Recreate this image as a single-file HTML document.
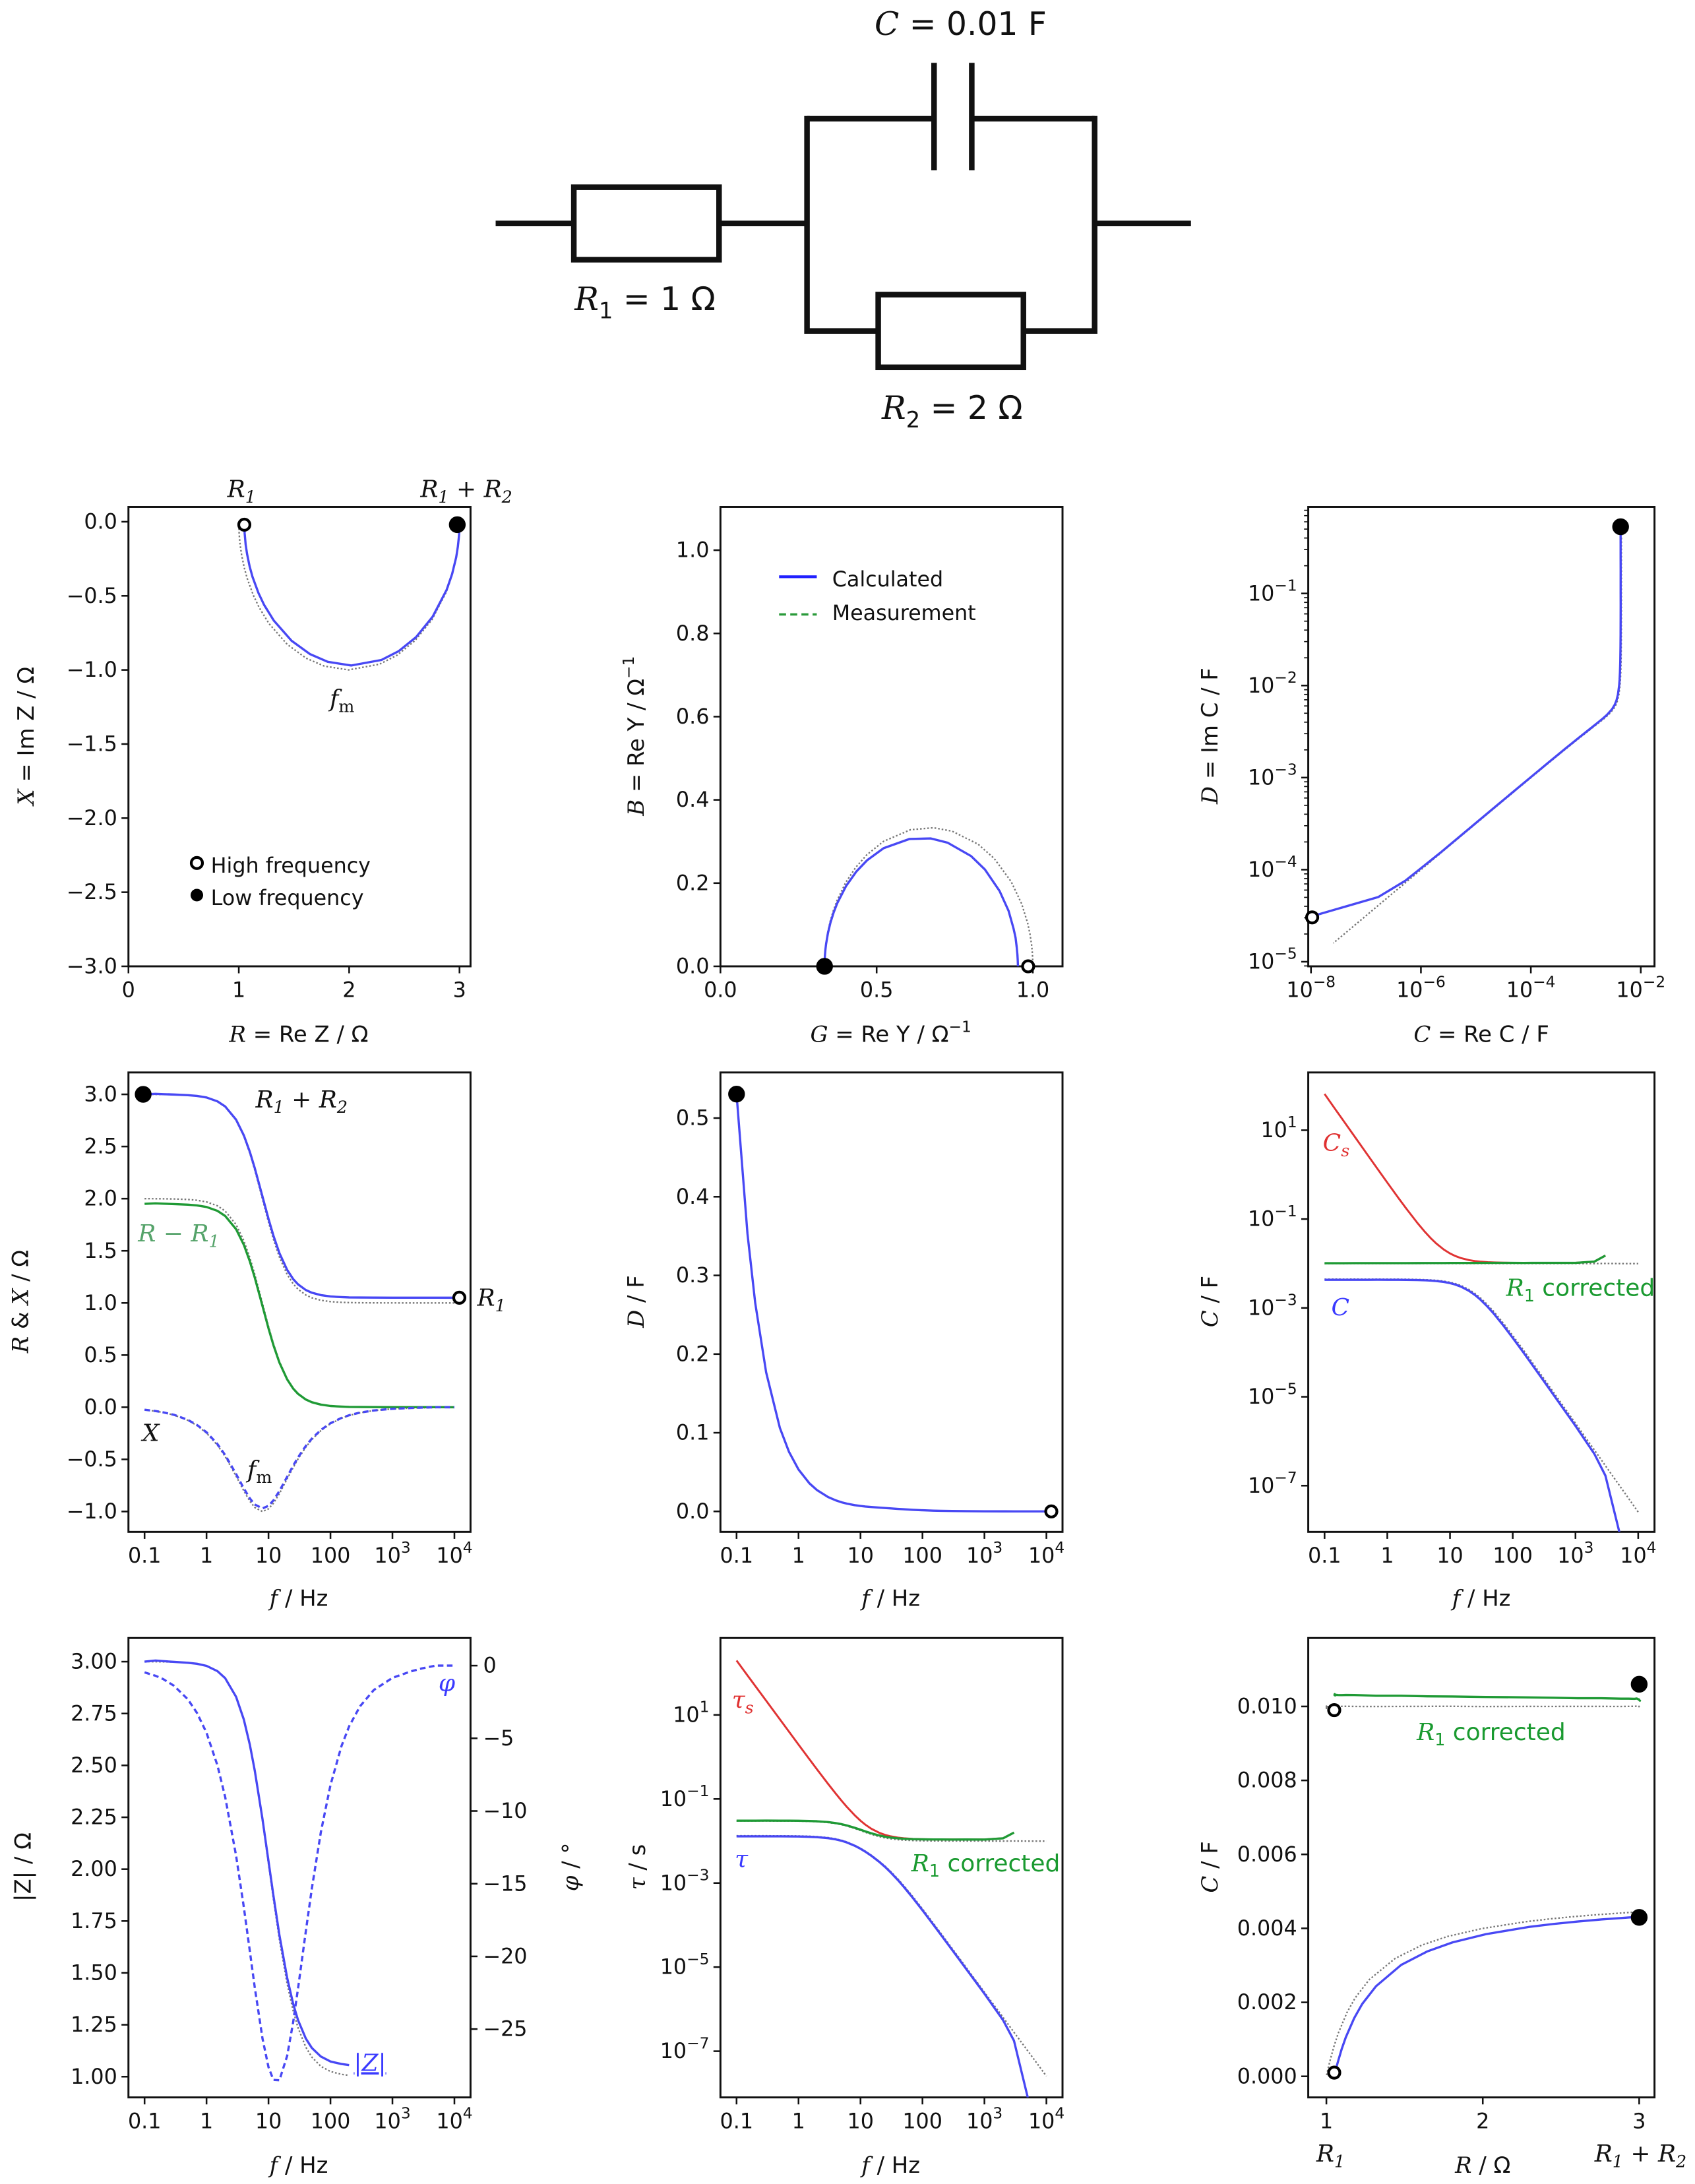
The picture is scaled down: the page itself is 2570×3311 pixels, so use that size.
<!DOCTYPE html>
<html><head><meta charset="utf-8"><title>RC circuit impedance spectroscopy</title>
<style>
html,body{margin:0;padding:0;background:#fff;}
svg{display:block;}
text{font-family:"DejaVu Sans","Liberation Sans",sans-serif;fill:#111;}
.m{font-family:"DejaVu Serif","Liberation Serif",serif;font-style:italic;}
.tk{font-size:15px;}
.al{font-size:16px;}
</style></head>
<body>
<svg id="chart" xmlns="http://www.w3.org/2000/svg" width="2570" height="3311" viewBox="0 0 1214 1564">
<rect x="0" y="0" width="1214" height="1564" fill="#fff"/>
<g stroke="#111" stroke-width="4" fill="none">
  <line x1="355" y1="160" x2="411" y2="160"/>
  <rect x="411" y="134" width="104" height="52"/>
  <line x1="515" y1="160" x2="578" y2="160"/>
  <line x1="578" y1="83" x2="578" y2="239"/>
  <line x1="578" y1="85" x2="669" y2="85"/>
  <line x1="669" y1="45" x2="669" y2="122"/>
  <line x1="696" y1="45" x2="696" y2="122"/>
  <line x1="696" y1="85" x2="784" y2="85"/>
  <line x1="784" y1="83" x2="784" y2="239"/>
  <line x1="578" y1="237" x2="629" y2="237"/>
  <rect x="629" y="211" width="104" height="52"/>
  <line x1="733" y1="237" x2="784" y2="237"/>
  <line x1="784" y1="160" x2="853" y2="160"/>
</g>
<text x="688" y="25" text-anchor="middle" font-size="23"><tspan class="m">C</tspan> = 0.01 F</text>
<text x="462" y="222" text-anchor="middle" font-size="23"><tspan class="m">R</tspan><tspan font-size="16" dy="6">1</tspan><tspan dy="-6"> = 1 Ω</tspan></text>
<text x="682" y="300" text-anchor="middle" font-size="23"><tspan class="m">R</tspan><tspan font-size="16" dy="6">2</tspan><tspan dy="-6"> = 2 Ω</tspan></text>

<text class="al" transform="translate(24,527) rotate(-90)" text-anchor="middle"><tspan class="m">X</tspan> = Im Z / Ω</text>
<text class="al" x="214" y="746" text-anchor="middle"><tspan class="m">R</tspan> = Re Z / Ω</text>
<text class="al" transform="translate(461,527) rotate(-90)" text-anchor="middle"><tspan class="m">B</tspan> = Re Y / Ω<tspan font-size="11" dy="-7">−1</tspan></text>
<text class="al" x="638" y="746" text-anchor="middle"><tspan class="m">G</tspan> = Re Y / Ω<tspan font-size="11" dy="-7">−1</tspan></text>
<text class="al" transform="translate(872,527) rotate(-90)" text-anchor="middle"><tspan class="m">D</tspan> = Im C / F</text>
<text class="al" x="1061" y="746" text-anchor="middle"><tspan class="m">C</tspan> = Re C / F</text>

<text class="al" transform="translate(20,932) rotate(-90)" text-anchor="middle"><tspan class="m">R</tspan> &amp; <tspan class="m">X</tspan> / Ω</text>
<text class="al" x="214" y="1150" text-anchor="middle"><tspan class="m">f</tspan> / Hz</text>
<text class="al" transform="translate(461,932) rotate(-90)" text-anchor="middle"><tspan class="m">D</tspan> / F</text>
<text class="al" x="638" y="1150" text-anchor="middle"><tspan class="m">f</tspan> / Hz</text>
<text class="al" transform="translate(872,932) rotate(-90)" text-anchor="middle"><tspan class="m">C</tspan> / F</text>
<text class="al" x="1061" y="1150" text-anchor="middle"><tspan class="m">f</tspan> / Hz</text>

<text class="al" transform="translate(22,1337) rotate(-90)" text-anchor="middle">|Z| / Ω</text>
<text class="al" transform="translate(414,1337) rotate(-90)" text-anchor="middle"><tspan class="m">φ</tspan> / °</text>
<text class="al" x="214" y="1556" text-anchor="middle"><tspan class="m">f</tspan> / Hz</text>
<text class="al" transform="translate(462,1337) rotate(-90)" text-anchor="middle"><tspan class="m">τ</tspan> / s</text>
<text class="al" x="638" y="1556" text-anchor="middle"><tspan class="m">f</tspan> / Hz</text>
<text class="al" transform="translate(872,1337) rotate(-90)" text-anchor="middle"><tspan class="m">C</tspan> / F</text>
<text class="al" x="1062" y="1556" text-anchor="middle"><tspan class="m">R</tspan> / Ω</text>

<g font-size="17">
<text class="m" x="173" y="356" text-anchor="middle">R<tspan font-size="12" dy="4">1</tspan></text>
<text class="m" x="334" y="356" text-anchor="middle">R<tspan font-size="12" dy="4">1</tspan><tspan dy="-4"> + R</tspan><tspan font-size="12" dy="4">2</tspan></text>
<text class="m" x="245" y="506" text-anchor="middle">f<tspan font-size="12" dy="4" font-style="normal">m</tspan></text>
<text class="m" x="216" y="793" text-anchor="middle">R<tspan font-size="12" dy="4">1</tspan><tspan dy="-4"> + R</tspan><tspan font-size="12" dy="4">2</tspan></text>
<text class="m" x="128" y="889" text-anchor="middle" style="fill:#55a36a">R − R<tspan font-size="12" dy="4">1</tspan></text>
<text class="m" x="352" y="935" text-anchor="middle">R<tspan font-size="12" dy="4">1</tspan></text>
<text class="m" x="108" y="1032" text-anchor="middle">X</text>
<text class="m" x="186" y="1058" text-anchor="middle">f<tspan font-size="12" dy="4" font-style="normal">m</tspan></text>
<text class="m" x="957" y="824" text-anchor="middle" style="fill:#e03030">C<tspan font-size="12" dy="4">s</tspan></text>
<text x="1132" y="928" text-anchor="middle" style="fill:#1a9a30"><tspan class="m">R</tspan><tspan font-size="12" dy="4">1</tspan><tspan dy="-4"> corrected</tspan></text>
<text class="m" x="960" y="942" text-anchor="middle" style="fill:#3a3aff">C</text>
<text class="m" x="320" y="1211" text-anchor="middle" style="fill:#3a3aff">φ</text>
<text class="m" x="265" y="1483" text-anchor="middle" style="fill:#3a3aff" text-decoration="underline">|Z|</text>
<text class="m" x="532" y="1223" text-anchor="middle" style="fill:#e03030">τ<tspan font-size="12" dy="4">s</tspan></text>
<text class="m" x="531" y="1337" text-anchor="middle" style="fill:#3a3aff">τ</text>
<text x="706" y="1340" text-anchor="middle" style="fill:#1a9a30"><tspan class="m">R</tspan><tspan font-size="12" dy="4">1</tspan><tspan dy="-4"> corrected</tspan></text>
<text x="1068" y="1246" text-anchor="middle" style="fill:#1a9a30"><tspan class="m">R</tspan><tspan font-size="12" dy="4">1</tspan><tspan dy="-4"> corrected</tspan></text>
<text class="m" x="953" y="1548" text-anchor="middle">R<tspan font-size="12" dy="4">1</tspan></text>
<text class="m" x="1175" y="1548" text-anchor="middle">R<tspan font-size="12" dy="4">1</tspan><tspan dy="-4"> + R</tspan><tspan font-size="12" dy="4">2</tspan></text>
</g>
<g>
<circle cx="141" cy="618" r="4" fill="#fff" stroke="#000" stroke-width="2"/>
<text x="151" y="625" font-size="15">High frequency</text>
<circle cx="141" cy="641" r="4.5" fill="#000"/>
<text x="151" y="648" font-size="15">Low frequency</text>
</g>
<g>
<line x1="558" y1="413" x2="585" y2="413" stroke="#2020ff" stroke-width="2"/>
<text x="596" y="420" font-size="15">Calculated</text>
<line x1="558" y1="440" x2="585" y2="440" stroke="#2a9a3a" stroke-width="1.6" stroke-dasharray="5 3"/>
<text x="596" y="444" font-size="15">Measurement</text>
</g>
<g id="plots"></g>
</svg>
<script>
// ---- data ----
const freqHz = [0.1,0.15,0.2,0.3,0.5,0.7,1,1.5,2,3,4,5,6,8,10,12,15,20,25,30,40,50,70,100,150,200,300,500,1000,2000,3000,5000,10000];
const modelRminusR1 = [2.000,1.9993,1.9987,1.9972,1.9921,1.9846,1.9689,1.9313,1.8813,1.7511,1.5966,1.4339,1.2751,0.9950,0.7751,0.6108,0.4393,0.2734,0.1840,0.1314,0.0761,0.0494,0.0255,0.0126,0.0056,0.0032,0.0014,0.0005,0.00013,0.00003,0.000014,0.000005,0.0000013];
const modelX = [-0.0251,-0.0377,-0.0502,-0.0753,-0.1251,-0.1747,-0.2475,-0.3641,-0.4728,-0.6602,-0.8026,-0.9009,-0.9614,-1.0000,-0.9743,-0.9211,-0.8280,-0.6871,-0.5781,-0.4955,-0.3827,-0.3105,-0.2244,-0.1581,-0.1059,-0.0793,-0.0530,-0.0318,-0.0159,-0.0080,-0.0053,-0.0032,-0.0016];
const measRminusR1 = [1.950,1.955,1.952,1.948,1.942,1.935,1.920,1.883,1.834,1.707,1.557,1.398,1.243,0.970,0.756,0.596,0.428,0.267,0.179,0.128,0.074,0.048,0.025,0.012,0.006,0.003,0.002,0.001,0.0005,0.0003,0.0002,0.0002,0.0001];
const measX = [-0.0243,-0.0366,-0.0487,-0.0730,-0.1213,-0.1695,-0.2401,-0.3532,-0.4586,-0.6404,-0.7785,-0.8739,-0.9326,-0.9700,-0.9451,-0.8935,-0.8032,-0.6665,-0.5608,-0.4806,-0.3712,-0.3012,-0.2177,-0.1534,-0.1027,-0.0769,-0.0514,-0.0308,-0.0154,-0.0072,-0.0035,0,0];
const modelR1 = 1.0;
const measR1 = 1.05;
const nyqXTicks = [0,1,2,3];
const nyqXLabels = ['0','1','2','3'];
const nyqYTicks = [0,-0.5,-1,-1.5,-2,-2.5,-3];
const nyqYLabels = ['0.0','−0.5','−1.0','−1.5','−2.0','−2.5','−3.0'];
const admXTicks = [0,0.5,1];
const admXLabels = ['0.0','0.5','1.0'];
const admYTicks = [0,0.2,0.4,0.6,0.8,1.0];
const admYLabels = ['0.0','0.2','0.4','0.6','0.8','1.0'];
const capXTicks = [1e-8,1e-6,1e-4,1e-2];
const capXLabels = [['10','−8'],['10','−6'],['10','−4'],['10','−2']];
const capYTicks = [1e-5,1e-4,1e-3,1e-2,1e-1];
const capYLabels = [['10','−5'],['10','−4'],['10','−3'],['10','−2'],['10','−1']];
const fTicks = [0.1,1,10,100,1000,10000];
const fLabels = ['0.1','1','10','100',['10','3'],['10','4']];
const rxYTicks = [3,2.5,2,1.5,1,0.5,0,-0.5,-1];
const rxYLabels = ['3.0','2.5','2.0','1.5','1.0','0.5','0.0','−0.5','−1.0'];
const dYTicks = [0,0.1,0.2,0.3,0.4,0.5];
const dYLabels = ['0.0','0.1','0.2','0.3','0.4','0.5'];
const logYTicks = [10,0.1,1e-3,1e-5,1e-7];
const logYLabels = [['10','1'],['10','−1'],['10','−3'],['10','−5'],['10','−7']];
const zYTicks = [3,2.75,2.5,2.25,2,1.75,1.5,1.25,1];
const zYLabels = ['3.00','2.75','2.50','2.25','2.00','1.75','1.50','1.25','1.00'];
const phiTicks = [0,-5,-10,-15,-20,-25];
const phiLabels = ['0','−5','−10','−15','−20','−25'];
const crXTicks = [1,2,3];
const crXLabels = ['1','2','3'];
const crYTicks = [0,0.002,0.004,0.006,0.008,0.010];
const crYLabels = ['0.000','0.002','0.004','0.006','0.008','0.010'];

const NS='http://www.w3.org/2000/svg';
const root=document.getElementById('plots');
function mk(tag,attrs,parent){const e=document.createElementNS(NS,tag);for(const k in attrs)e.setAttribute(k,attrs[k]);(parent||root).appendChild(e);return e;}
function nm(e,name,inter){
  
  
}
function axes(o){
  const tx=v=>o.xlog?Math.log10(v):v, ty=v=>o.ylog?Math.log10(v):v;
  o.sx=v=>o.x0+(tx(v)-tx(o.xmin))/(tx(o.xmax)-tx(o.xmin))*(o.x1-o.x0);
  o.sy=v=>o.y1-(ty(v)-ty(o.ymin))/(ty(o.ymax)-ty(o.ymin))*(o.y1-o.y0);
  o.g=mk('g',{});
  nm(o.g,o.name,'false');
  return o;
}
function tlabel(parent,x,y,lab,anchor,name){
  const t=mk('text',{x:x,y:y,'text-anchor':anchor,class:'tk'},parent);
  nm(t,name,'false');
  if(Array.isArray(lab)){t.appendChild(document.createTextNode(lab[0]));const s=mk('tspan',{dy:-7,'font-size':11},t);s.textContent=lab[1];}
  else t.textContent=lab;
}
function xticks(a,vals,labs){
  vals.forEach((v,i)=>{const x=a.sx(v);
    const l=mk('line',{x1:x,x2:x,y1:a.y1,y2:a.y1+5,stroke:'#111','stroke-width':1.2},a.g);
    nm(l,'x-tick','false');
    tlabel(a.g,x,a.y1+22,labs[i],'middle','x-tick-label');});
}
function yticks(a,vals,labs,side,scale){
  const sy=scale||a.sy;
  vals.forEach((v,i)=>{const y=sy(v);
    const xx=side==='right'?a.x1:a.x0, d=side==='right'?5:-5;
    const l=mk('line',{x1:xx,x2:xx+d,y1:y,y2:y,stroke:'#111','stroke-width':1.2},a.g);
    nm(l,'y-tick','false');
    tlabel(a.g,side==='right'?a.x1+9:a.x0-8,y+5,labs[i],side==='right'?'start':'end','y-tick-label');});
}
function minorLog(a,axis){
  const lo=Math.floor(Math.log10(axis==='y'?a.ymin:a.xmin)),hi=Math.ceil(Math.log10(axis==='y'?a.ymax:a.xmax));
  for(let d=lo;d<hi;d++)for(let k=2;k<10;k++){const v=k*Math.pow(10,d);
    if(axis==='y'){if(v<a.ymin||v>a.ymax)continue;const y=a.sy(v);const l=mk('line',{x1:a.x0,x2:a.x0-3,y1:y,y2:y,stroke:'#111','stroke-width':0.8},a.g);nm(l,'y-minor-tick','false');}
    else{if(v<a.xmin||v>a.xmax)continue;const x=a.sx(v);const l=mk('line',{x1:x,x2:x,y1:a.y1,y2:a.y1+3,stroke:'#111','stroke-width':0.8},a.g);nm(l,'x-minor-tick','false');}
  }
}
function frame(a){const r=mk('rect',{x:a.x0,y:a.y0,width:a.x1-a.x0,height:a.y1-a.y0,fill:'none',stroke:'#111','stroke-width':1.4},a.g);nm(r,'plot-frame','false');}
function series(a,xs,ys,style,name,sy){
  const Y=sy||a.sy;const pts=[];
  for(let i=0;i<xs.length;i++){let x=xs[i],y=ys[i];
    if(!isFinite(x)||!isFinite(y))break;
    let stop=false;
    if(a.xlog&&x<=0){x=a.xmin;stop=true;}
    if(a.ylog&&y<=0){y=a.ymin;stop=true;}
    pts.push(a.sx(x).toFixed(2)+','+Y(y).toFixed(2));
    if(stop)break;}
  const cp=mk('clipPath',{id:'c'+a.name},a.g);
  mk('rect',{x:a.x0,y:a.y0,width:a.x1-a.x0,height:a.y1-a.y0},cp);
  const p=mk('polyline',Object.assign({points:pts.join(' '),fill:'none','clip-path':'url(#c'+a.name+')','stroke-linejoin':'round'},style),a.g);
  nm(p,name,'false');
  return p;
}
function marker(a,x,y,filled,name){
  const c=mk('circle',{cx:a.sx(x),cy:a.sy(y),r:filled?5:4,fill:filled?'#000':'#fff',stroke:'#000','stroke-width':2},a.g);
  nm(c,name,'false');
}
const BLUE={stroke:'#4848f4','stroke-width':1.6};
const BLUED={stroke:'#4848f4','stroke-width':1.6,'stroke-dasharray':'4 2.5'};
const GREEN={stroke:'#1f9a35','stroke-width':1.6};
const RED={stroke:'#e03333','stroke-width':1.4};
const GREY={stroke:'#777','stroke-width':1.1,'stroke-dasharray':'1.2 1.4'};

function derive(g,X,R1){
  const n=freqHz.length,o={R:[],X:X,G:[],B:[],Cr:[],Ci:[],Cs:[],Cc:[],Z:[],phi:[],tau:[],taus:[],tauc:[]};
  for(let i=0;i<n;i++){const w=2*Math.PI*freqHz[i],R=g[i]+R1,x=X[i],d=R*R+x*x;
    o.R.push(R);o.G.push(R/d);o.B.push(-x/d);o.Cr.push(-x/d/w);o.Ci.push(R/d/w);
    o.Cs.push(x<0?-1/(w*x):Infinity);o.Cc.push(x<0?-x/((g[i]*g[i]+x*x)*w):Infinity);
    o.Z.push(Math.sqrt(d));o.phi.push(Math.atan2(x,R)*180/Math.PI);}
  o.tau=o.Cr.map((c,i)=>c*o.R[i]);o.taus=o.Cs.map((c,i)=>c*o.R[i]);o.tauc=o.Cc.map((c,i)=>c*o.R[i]);
  return o;
}
const M=derive(modelRminusR1,modelX,modelR1);
const E=derive(measRminusR1,measX,measR1);
const fmin=Math.pow(10,-1.26),fmax=Math.pow(10,4.26);
const n=freqHz.length;

let a=axes({name:'nyquist-plot',x0:92,x1:337,y0:363,y1:692,xmin:0,xmax:3.1,ymin:-3,ymax:0.1});
frame(a);xticks(a,nyqXTicks,nyqXLabels);yticks(a,nyqYTicks,nyqYLabels);
series(a,M.R,M.X,GREY,'model-nyquist-curve');
series(a,E.R,E.X,BLUE,'measured-nyquist-curve');
marker(a,E.R[n-1],-0.02,false,'marker-high-frequency');
marker(a,E.R[0]-0.02,-0.02,true,'marker-low-frequency');

a=axes({name:'admittance-plot',x0:516,x1:761,y0:363,y1:692,xmin:0,xmax:1.095,ymin:0,ymax:1.104});
frame(a);xticks(a,admXTicks,admXLabels);yticks(a,admYTicks,admYLabels);
series(a,M.G,M.B,GREY,'model-admittance-curve');
series(a,E.G,E.B,BLUE,'measured-admittance-curve');
marker(a,E.G[0],0,true,'marker-low-frequency');
marker(a,0.985,0,false,'marker-high-frequency');

a=axes({name:'capacitance-plane-plot',x0:937,x1:1185,y0:363,y1:692,xlog:true,ylog:true,xmin:Math.pow(10,-8.05),xmax:Math.pow(10,-1.75),ymin:Math.pow(10,-5.05),ymax:Math.pow(10,-0.06)});
frame(a);minorLog(a,'y');xticks(a,capXTicks,capXLabels);yticks(a,capYTicks,capYLabels);
series(a,M.Cr,M.Ci,GREY,'model-capacitance-curve');
series(a,E.Cr,E.Ci,BLUE,'measured-capacitance-curve');
marker(a,E.Cr[0],E.Ci[0],true,'marker-low-frequency');
marker(a,1.05e-8,E.Ci[n-2],false,'marker-high-frequency');

a=axes({name:'r-x-vs-frequency-plot',x0:92,x1:337,y0:768,y1:1097,xlog:true,xmin:fmin,xmax:fmax,ymin:-1.195,ymax:3.21});
frame(a);xticks(a,fTicks,fLabels);yticks(a,rxYTicks,rxYLabels);
series(a,freqHz,M.R,GREY,'model-r-curve');
series(a,freqHz,modelRminusR1,GREY,'model-r-minus-r1-curve');
series(a,freqHz,modelX,GREY,'model-x-curve');
series(a,freqHz,E.R,BLUE,'measured-r-curve');
series(a,freqHz,measRminusR1,GREEN,'measured-r-minus-r1-curve');
series(a,freqHz,measX,BLUED,'measured-x-curve');
marker(a,0.095,3.0,true,'marker-low-frequency');
marker(a,12000,E.R[n-1],false,'marker-high-frequency');

a=axes({name:'d-vs-frequency-plot',x0:516,x1:761,y0:768,y1:1097,xlog:true,xmin:fmin,xmax:fmax,ymin:-0.026,ymax:0.558});
frame(a);xticks(a,fTicks,fLabels);yticks(a,dYTicks,dYLabels);
series(a,freqHz,M.Ci,GREY,'model-d-curve');
series(a,freqHz,E.Ci,BLUE,'measured-d-curve');
marker(a,freqHz[0],E.Ci[0],true,'marker-low-frequency');
marker(a,12000,0,false,'marker-high-frequency');

a=axes({name:'c-vs-frequency-plot',x0:937,x1:1185,y0:768,y1:1097,xlog:true,ylog:true,xmin:fmin,xmax:fmax,ymin:Math.pow(10,-8.04),ymax:Math.pow(10,2.3)});
frame(a);xticks(a,fTicks,fLabels);yticks(a,logYTicks,logYLabels);
series(a,freqHz,M.Cr,GREY,'model-c-curve');
series(a,freqHz,M.Cc,GREY,'model-c-corrected-curve');
series(a,freqHz,E.Cs,RED,'measured-cs-curve');
series(a,freqHz,E.Cc,GREEN,'measured-c-corrected-curve');
series(a,freqHz,E.Cr,BLUE,'measured-c-curve');

a=axes({name:'bode-plot',x0:92,x1:337,y0:1173,y1:1502,xlog:true,xmin:fmin,xmax:fmax,ymin:0.9,ymax:3.114});
const phiScale=v=>a.y1-(v-(-29.7))/(1.9-(-29.7))*(a.y1-a.y0);
frame(a);xticks(a,fTicks,fLabels);yticks(a,zYTicks,zYLabels);yticks(a,phiTicks,phiLabels,'right',phiScale);
const nz=freqHz.filter(f=>f<=200).length;
series(a,freqHz.slice(0,nz),M.Z.slice(0,nz),GREY,'model-abs-z-curve');
series(a,freqHz.slice(0,nz),E.Z.slice(0,nz),BLUE,'measured-abs-z-curve');
series(a,freqHz,E.phi,BLUED,'measured-phase-curve',phiScale);

a=axes({name:'tau-vs-frequency-plot',x0:516,x1:761,y0:1173,y1:1502,xlog:true,ylog:true,xmin:fmin,xmax:fmax,ymin:Math.pow(10,-8.1),ymax:Math.pow(10,2.83)});
frame(a);xticks(a,fTicks,fLabels);yticks(a,logYTicks,logYLabels);
series(a,freqHz,M.tau,GREY,'model-tau-curve');
series(a,freqHz,M.tauc,GREY,'model-tau-corrected-curve');
series(a,freqHz,E.taus,RED,'measured-tau-s-curve');
series(a,freqHz,E.tauc,GREEN,'measured-tau-corrected-curve');
series(a,freqHz,E.tau,BLUE,'measured-tau-curve');

a=axes({name:'c-vs-r-plot',x0:937,x1:1185,y0:1173,y1:1502,xmin:0.884,xmax:3.098,ymin:-0.00057,ymax:0.01185});
frame(a);xticks(a,crXTicks,crXLabels);yticks(a,crYTicks,crYLabels);
const nc=freqHz.filter(f=>f<=1000).length;
series(a,M.R,M.Cr,GREY,'model-c-vs-r-curve');
series(a,M.R,M.Cc,GREY,'model-c-corrected-vs-r-curve');
series(a,E.R,E.Cr,BLUE,'measured-c-vs-r-curve');
series(a,E.R.slice(0,nc),E.Cc.slice(0,nc),GREEN,'measured-c-corrected-vs-r-curve');
marker(a,E.R[n-1],0.0001,false,'marker-high-frequency-c');
marker(a,E.R[n-1],0.0099,false,'marker-high-frequency-c-corrected');
marker(a,E.R[0],E.Cr[0],true,'marker-low-frequency-c');
marker(a,E.R[0],0.0106,true,'marker-low-frequency-c-corrected');
</script>
</body></html>
